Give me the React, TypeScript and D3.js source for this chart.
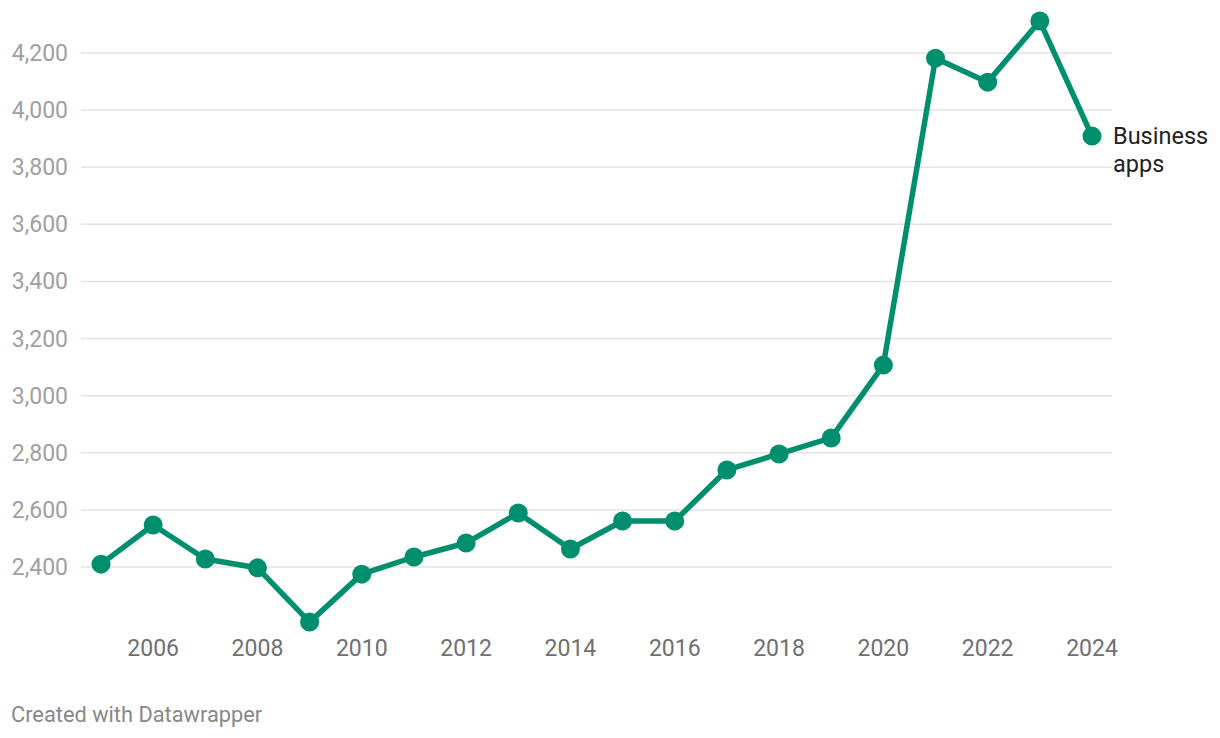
import React from "react";
import * as d3 from "d3";

const years = [2005, 2006, 2007, 2008, 2009, 2010, 2011, 2012, 2013, 2014, 2015, 2016, 2017, 2018, 2019, 2020, 2021, 2022, 2023, 2024];
const values = [2410, 2547, 2428, 2397, 2207, 2375, 2435, 2484, 2589, 2463, 2561, 2561, 2740, 2796, 2852, 3107, 4182, 4098, 4312, 3909];
const yTicks = [2400, 2600, 2800, 3000, 3200, 3400, 3600, 3800, 4000, 4200];
const xTicks = [2006, 2008, 2010, 2012, 2014, 2016, 2018, 2020, 2022, 2024];
const seriesName = ["Business", "apps"];
const footer = "Created with Datawrapper";

export default function App() {
  const W = 1220, H = 738;
  const x = d3.scaleLinear().domain([2005, 2024]).range([101, 1092]);
  const y = d3.scaleLinear().domain([2400, 4200]).range([567, 53]);
  const line = d3.line<number>().x((_, i) => x(years[i])).y((d) => y(d));
  const color = "#008f6e";
  const font = "Roboto, 'Noto Sans', sans-serif";
  const last = values.length - 1;
  const lx = x(years[last]) + 21;
  return (
    <svg width={W} height={H} style={{ position: "absolute", left: 0, top: 0, background: "#fff" }} fontFamily={font}>
      {yTicks.map((t) => (
        <g key={t}>
          <line x1={81} x2={1112} y1={y(t)} y2={y(t)} stroke="#e3e3e3" strokeWidth={1.5} />
          <text x={68} y={y(t)} dy="0.35em" textAnchor="end" fontSize={23} fill="#a0a0a0">
            {d3.format(",")(t)}
          </text>
        </g>
      ))}
      {xTicks.map((t) => (
        <text key={t} x={x(t)} y={656} textAnchor="middle" fontSize={23} fill="#707070">
          {t}
        </text>
      ))}
      <path d={line(values) || ""} fill="none" stroke={color} strokeWidth={5.5} strokeLinejoin="round" />
      {values.map((v, i) => (
        <circle key={i} cx={x(years[i])} cy={y(v)} r={9.5} fill={color} />
      ))}
      <text x={lx} y={y(values[last])} fontSize={23.5} fill="#222">
        <tspan x={lx} dy="0.35em">{seriesName[0]}</tspan>
        <tspan x={lx} dy="1.17em">{seriesName[1]}</tspan>
      </text>
      <text x={11} y={722} fontSize={21.8} fill="#888">{footer}</text>
    </svg>
  );
}
